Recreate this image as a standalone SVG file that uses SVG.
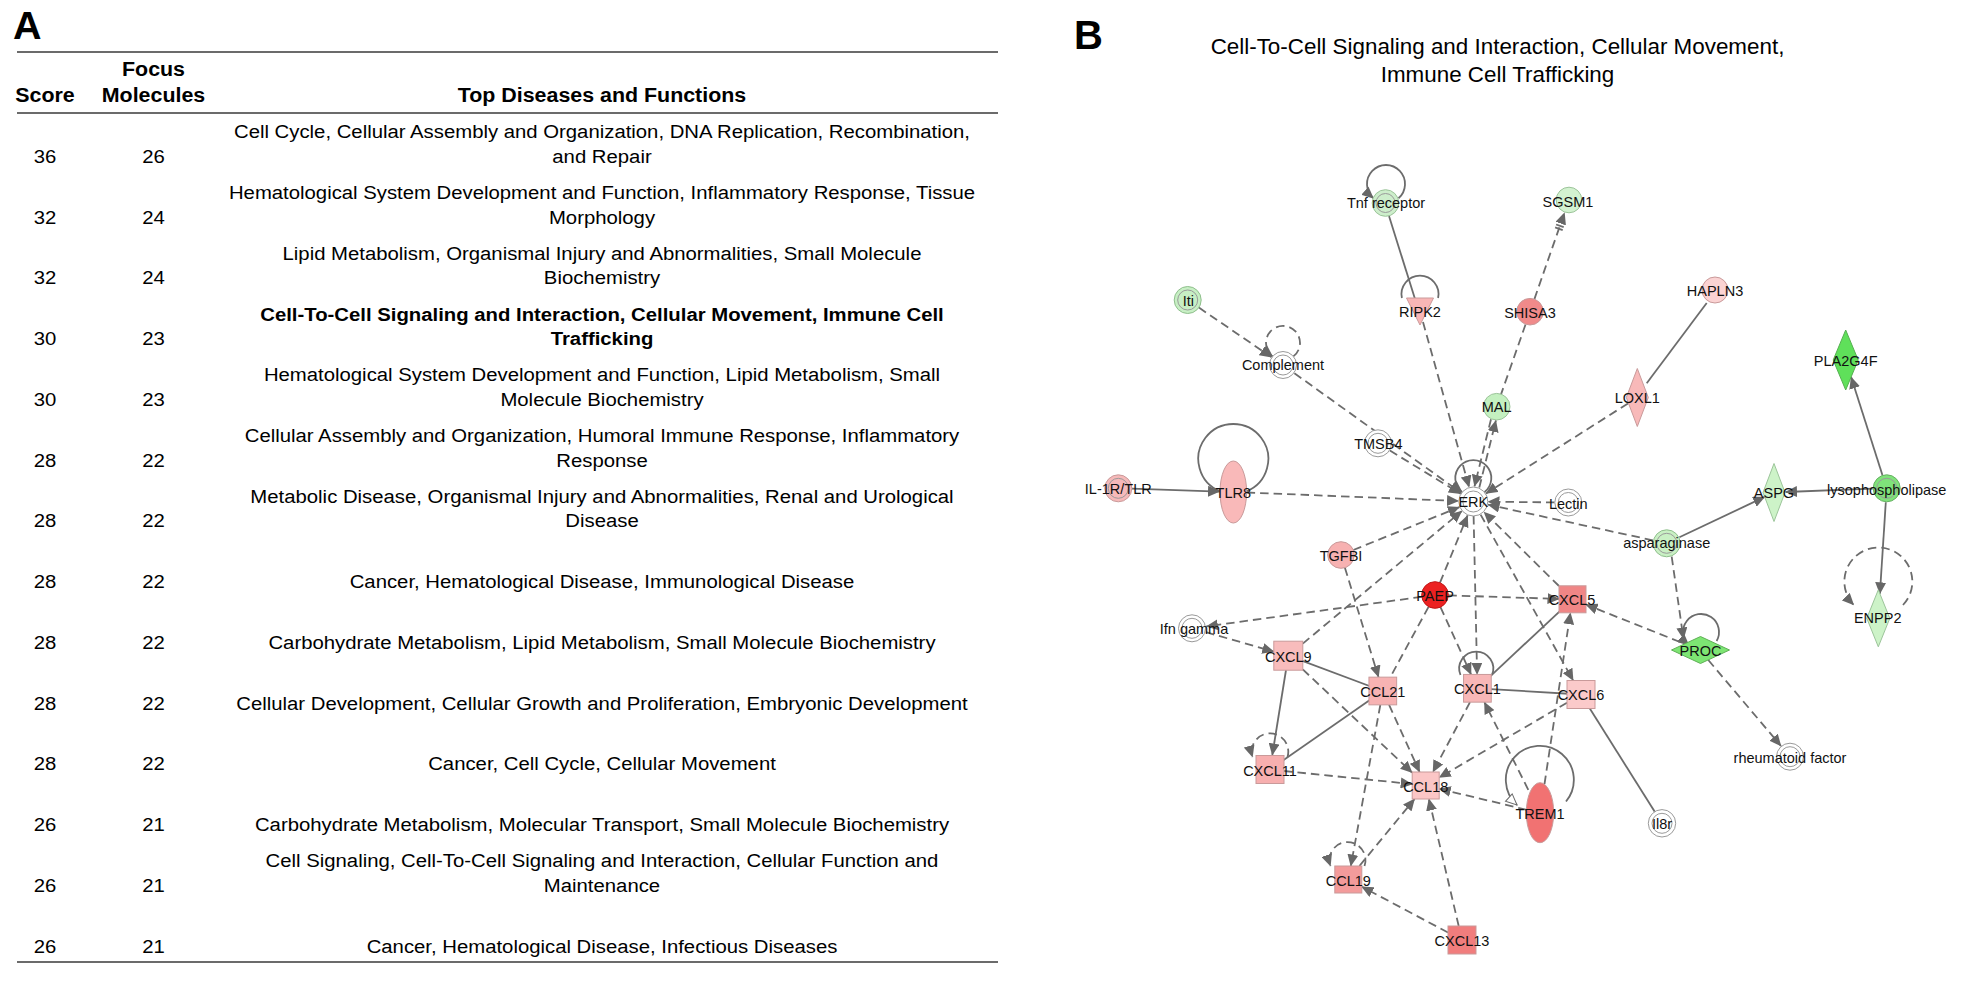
<svg xmlns="http://www.w3.org/2000/svg" width="1963" height="986" viewBox="0 0 1963 986">
<style>
.t{font-family:"Liberation Sans",Arial,Helvetica,sans-serif;font-size:19px;fill:#000;text-anchor:middle}
.b{font-weight:bold}
.h{font-size:20px}
.rule{stroke:#3a3a3a;stroke-width:1.6}
.e{fill:none;stroke:#6c6c6c;stroke-width:1.8}
.d{stroke-dasharray:8.5 5}
.a{marker-end:url(#ah)}
.lbl{font-family:"Liberation Sans",Arial,Helvetica,sans-serif;font-size:14.5px;fill:#111;text-anchor:middle}
.ring{fill:none;stroke:#9a9a9a;stroke-width:1}
.ow{fill:#fff;stroke:#9a9a9a;stroke-width:1}
.pk{stroke:#c99a9a;stroke-width:1}
.gr{stroke:#9cc49a;stroke-width:1}
</style>
<defs>
<marker id="ah" viewBox="0 0 12 11" refX="11.5" refY="5.5" markerWidth="12" markerHeight="11" markerUnits="userSpaceOnUse" orient="auto">
<path d="M0,0 L12,5.5 L0,11 Z" fill="#676767"/>
</marker>
<marker id="oh" viewBox="0 0 13 12" refX="12" refY="6" markerWidth="13" markerHeight="12" markerUnits="userSpaceOnUse" orient="auto">
<path d="M1,1 L12,6 L1,11 Z" fill="#fff" stroke="#6b6b6b" stroke-width="1"/>
</marker>
</defs>
<rect x="0" y="0" width="1963" height="986" fill="#fff"/>

<!-- Panel A -->
<g id="panelA">
<text x="13" y="38.5" font-family="Liberation Sans,Arial,sans-serif" font-size="39.5" font-weight="bold">A</text>
<line class="rule" x1="17" y1="52" x2="998" y2="52"/>
<line class="rule" x1="17" y1="113" x2="998" y2="113"/>
<line class="rule" x1="17" y1="962" x2="998" y2="962"/>
<g id="table-text" transform="scale(1.07,1)">
<text class="t b h" x="42.06" y="102">Score</text>
<text class="t b h" x="143.46" y="76">Focus</text>
<text class="t b h" x="143.46" y="102">Molecules</text>
<text class="t b h" x="562.62" y="102">Top Diseases and Functions</text>

<g id="row1"><text class="t" x="42.06" y="163">36</text><text class="t" x="143.46" y="163">26</text>
<text class="t" x="562.62" y="138.5">Cell Cycle, Cellular Assembly and Organization, DNA Replication, Recombination,</text>
<text class="t" x="562.62" y="163">and Repair</text></g>
<g id="row2"><text class="t" x="42.06" y="223.75">32</text><text class="t" x="143.46" y="223.75">24</text>
<text class="t" x="562.62" y="199.25">Hematological System Development and Function, Inflammatory Response, Tissue</text>
<text class="t" x="562.62" y="223.75">Morphology</text></g>
<g id="row3"><text class="t" x="42.06" y="284.5">32</text><text class="t" x="143.46" y="284.5">24</text>
<text class="t" x="562.62" y="260">Lipid Metabolism, Organismal Injury and Abnormalities, Small Molecule</text>
<text class="t" x="562.62" y="284.5">Biochemistry</text></g>
<g id="row4"><text class="t" x="42.06" y="345.25">30</text><text class="t" x="143.46" y="345.25">23</text>
<text class="t b" x="562.62" y="320.75">Cell-To-Cell Signaling and Interaction, Cellular Movement, Immune Cell</text>
<text class="t b" x="562.62" y="345.25">Trafficking</text></g>
<g id="row5"><text class="t" x="42.06" y="406">30</text><text class="t" x="143.46" y="406">23</text>
<text class="t" x="562.62" y="381.5">Hematological System Development and Function, Lipid Metabolism, Small</text>
<text class="t" x="562.62" y="406">Molecule Biochemistry</text></g>
<g id="row6"><text class="t" x="42.06" y="466.75">28</text><text class="t" x="143.46" y="466.75">22</text>
<text class="t" x="562.62" y="442.25">Cellular Assembly and Organization, Humoral Immune Response, Inflammatory</text>
<text class="t" x="562.62" y="466.75">Response</text></g>
<g id="row7"><text class="t" x="42.06" y="527.5">28</text><text class="t" x="143.46" y="527.5">22</text>
<text class="t" x="562.62" y="503">Metabolic Disease, Organismal Injury and Abnormalities, Renal and Urological</text>
<text class="t" x="562.62" y="527.5">Disease</text></g>
<g id="row8"><text class="t" x="42.06" y="588.25">28</text><text class="t" x="143.46" y="588.25">22</text>
<text class="t" x="562.62" y="588.25">Cancer, Hematological Disease, Immunological Disease</text></g>
<g id="row9"><text class="t" x="42.06" y="649">28</text><text class="t" x="143.46" y="649">22</text>
<text class="t" x="562.62" y="649">Carbohydrate Metabolism, Lipid Metabolism, Small Molecule Biochemistry</text></g>
<g id="row10"><text class="t" x="42.06" y="709.75">28</text><text class="t" x="143.46" y="709.75">22</text>
<text class="t" x="562.62" y="709.75">Cellular Development, Cellular Growth and Proliferation, Embryonic Development</text></g>
<g id="row11"><text class="t" x="42.06" y="770.5">28</text><text class="t" x="143.46" y="770.5">22</text>
<text class="t" x="562.62" y="770.5">Cancer, Cell Cycle, Cellular Movement</text></g>
<g id="row12"><text class="t" x="42.06" y="831.25">26</text><text class="t" x="143.46" y="831.25">21</text>
<text class="t" x="562.62" y="831.25">Carbohydrate Metabolism, Molecular Transport, Small Molecule Biochemistry</text></g>
<g id="row13"><text class="t" x="42.06" y="892">26</text><text class="t" x="143.46" y="892">21</text>
<text class="t" x="562.62" y="867.5">Cell Signaling, Cell-To-Cell Signaling and Interaction, Cellular Function and</text>
<text class="t" x="562.62" y="892">Maintenance</text></g>
<g id="row14"><text class="t" x="42.06" y="952.75">26</text><text class="t" x="143.46" y="952.75">21</text>
<text class="t" x="562.62" y="952.75">Cancer, Hematological Disease, Infectious Diseases</text></g>
</g>
</g>

<!-- Panel B -->
<g id="panelB-title">
<text x="1074" y="49" font-family="Liberation Sans,Arial,sans-serif" font-size="40" font-weight="bold">B</text>
<text x="1497.5" y="54.3" font-family="Liberation Sans,Arial,sans-serif" font-size="22.4" text-anchor="middle">Cell-To-Cell Signaling and Interaction, Cellular Movement,</text>
<text x="1497.5" y="81.5" font-family="Liberation Sans,Arial,sans-serif" font-size="22.4" text-anchor="middle">Immune Cell Trafficking</text>
</g>

<g id="connectors">
<!-- self loops -->
<path class="e a" d="M1398.5,198.3 A19,19 0 1 0 1373.5,198.3"/>
<path class="e" d="M1438.1,298 A18.5,18.5 0 1 0 1401.9,298"/>
<path class="e d a" d="M1293.4,356.4 A17,17 0 1 0 1272.6,356.4"/>
<path class="e" d="M1246.3,491.5 A35,35 0 1 0 1220.3,491.5"/>
<path class="e a" d="M1484.4,492.2 A18,18 0 1 0 1462.2,492.2"/>
<path class="e d a" d="M1903,605 A34,34 0 1 0 1853.7,605"/>
<path class="e a" d="M1716.6,641 A18,18 0 1 0 1689,645.4"/>
<path class="e" d="M1492,675 A17,17 0 1 0 1460.5,675"/>
<path class="e d a" d="M1287.5,757 A18.3,18.3 0 1 0 1252.5,757"/>
<path class="e d a" d="M1364.5,866 A18,18 0 1 0 1330.5,866"/>
<path class="e" style="marker-end:url(#oh)" d="M1566,801.5 A34,34 0 1 0 1517,805"/>

<!-- top area -->
<line class="e" x1="1389" y1="216" x2="1415" y2="299"/>
<line class="e d a" x1="1423" y1="322" x2="1469.1" y2="487.1"/>
<line class="e d a" x1="1534.4" y1="299.1" x2="1564.5" y2="212.7"/>
<line class="e" x1="1556.1" y1="224.5" x2="1563.7" y2="227.2"/>
<line class="e" x1="1555.1" y1="227.4" x2="1562.7" y2="230.1"/>
<line class="e d" x1="1530" y1="311.7" x2="1496.7" y2="406.7"/>
<line class="e d a" x1="1479.3" y1="487.5" x2="1495.9" y2="420.4"/>
<line class="e d a" x1="1491" y1="419.2" x2="1474.5" y2="486.3"/>
<line class="e d a" x1="1198.9" y1="307.6" x2="1271.4" y2="357.1"/>
<line class="e d a" x1="1294.4" y1="373.2" x2="1461.1" y2="492.8"/>
<line class="e d a" x1="1389.9" y1="450.6" x2="1460.5" y2="493.7"/>
<line class="e" x1="1706.7" y1="303" x2="1646.7" y2="383.3"/>
<line class="e d a" x1="1628" y1="403.4" x2="1486" y2="493.5"/>
<line class="e a" x1="1131.8" y1="488.7" x2="1219.5" y2="491.6"/>
<line class="e d a" x1="1246.6" y1="492.5" x2="1458.5" y2="501"/>

<!-- right cluster -->
<line class="e d a" x1="1554.5" y1="502.4" x2="1488" y2="501.7"/>
<line class="e d a" x1="1653" y1="540.3" x2="1488" y2="504.7"/>
<line class="e a" x1="1679.4" y1="537.3" x2="1764.7" y2="496.9"/>
<line class="e a" x1="1872.7" y1="488.6" x2="1785.5" y2="492"/>
<line class="e a" x1="1882.4" y1="475" x2="1851.1" y2="377"/>
<line class="e a" x1="1885.8" y1="502.3" x2="1879.9" y2="593.8"/>
<line class="e d a" x1="1671.7" y1="556.7" x2="1683.5" y2="639"/>
<line class="e d a" x1="1680" y1="642" x2="1586" y2="604.6"/>
<line class="e d a" x1="1708.3" y1="660" x2="1781" y2="746"/>

<!-- central cluster -->
<line class="e d a" x1="1353.3" y1="550" x2="1459.4" y2="507.1"/>
<line class="e d a" x1="1302.8" y1="643.6" x2="1461.8" y2="511.1"/>
<line class="e d a" x1="1440" y1="582.7" x2="1467.6" y2="515.4"/>
<line class="e d a" x1="1421.8" y1="596.8" x2="1206.4" y2="626.4"/>
<line class="e d a" x1="1206" y1="632.2" x2="1273.8" y2="651.6"/>
<line class="e d a" x1="1344.9" y1="567.7" x2="1378.5" y2="677.1"/>
<line class="e d" x1="1435" y1="595" x2="1382.8" y2="691"/>
<line class="e d a" x1="1440.5" y1="607.1" x2="1471.1" y2="674.5"/>
<line class="e d a" x1="1473.6" y1="516" x2="1477.1" y2="674.4"/>
<line class="e d a" x1="1448.3" y1="595.4" x2="1559" y2="598.9"/>
<line class="e d a" x1="1559" y1="586" x2="1484" y2="512"/>
<line class="e d a" x1="1480.6" y1="514.6" x2="1573.2" y2="680.5"/>
<line class="e" x1="1477.4" y1="688.3" x2="1572.5" y2="599.3"/>
<line class="e" x1="1477.4" y1="688.3" x2="1581" y2="694.5"/>
<line class="e" x1="1288.3" y1="655.7" x2="1382.8" y2="691"/>
<line class="e" x1="1382.8" y1="691" x2="1270" y2="769.5"/>
<line class="e a" x1="1286" y1="670" x2="1272.3" y2="755"/>
<line class="e d a" x1="1302.8" y1="669.4" x2="1412.2" y2="772.7"/>
<line class="e d a" x1="1389.1" y1="704.8" x2="1419.6" y2="772"/>
<line class="e d a" x1="1380.3" y1="705" x2="1350.8" y2="866"/>
<line class="e d a" x1="1470" y1="702.2" x2="1432.9" y2="772"/>
<line class="e d a" x1="1567" y1="702.7" x2="1439.2" y2="777.6"/>
<line class="e d a" x1="1528.3" y1="789.8" x2="1484.4" y2="702.2"/>
<line class="e d a" x1="1544.5" y1="784" x2="1570.4" y2="612.8"/>
<line class="e d a" x1="1526.5" y1="809.8" x2="1439.2" y2="788.8"/>
<line class="e d a" x1="1284" y1="771" x2="1412.2" y2="784.1"/>
<line class="e d a" x1="1359.4" y1="866" x2="1414.6" y2="799"/>
<line class="e d a" x1="1458.7" y1="926" x2="1428.9" y2="799"/>
<line class="e d a" x1="1448" y1="932.5" x2="1361.8" y2="886.7"/>
<line class="e" x1="1581" y1="694.5" x2="1662" y2="823.3"/>
</g>

<!-- nodes -->
<g id="n-tnf-receptor"><circle cx="1385.5" cy="203" r="13.3" fill="#cdeecb" stroke="#9cc49a"/><circle class="ring" cx="1385.5" cy="203" r="9.5" stroke="#9cc49a"/><text class="lbl" x="1386" y="208.3">Tnf receptor</text></g>
<g id="n-sgsm1"><circle class="gr" cx="1569" cy="200" r="12.8" fill="#d3f2d0"/><text class="lbl" x="1568" y="206.7">SGSM1</text></g>
<g id="n-iti"><circle cx="1187.7" cy="300" r="13.5" fill="#c7efc4" stroke="#8fbf8c"/><circle class="ring" cx="1187.7" cy="300" r="10" stroke="#8fbf8c"/><text class="lbl" x="1188.3" y="306">Iti</text></g>
<g id="n-ripk2"><path class="pk" d="M1406.5,298 L1433.5,298 L1420,325 Z" fill="#f9b6b6"/><text class="lbl" x="1420" y="316.7">RIPK2</text></g>
<g id="n-shisa3"><circle class="pk" cx="1530" cy="311.7" r="13.3" fill="#f08a8a"/><text class="lbl" x="1530" y="317.7">SHISA3</text></g>
<g id="n-hapln3"><circle class="pk" cx="1715" cy="290" r="13" fill="#fbd3d3"/><text class="lbl" x="1715" y="295.7">HAPLN3</text></g>
<g id="n-complement"><circle class="ow" cx="1283" cy="365" r="13.5"/><circle class="ring" cx="1283" cy="365" r="10"/><text class="lbl" x="1283" y="369.5">Complement</text></g>
<g id="n-loxl1"><path class="pk" d="M1637.3,368.5 L1648.3,397.5 L1637.3,426.5 L1626.3,397.5 Z" fill="#f8b9b9"/><text class="lbl" x="1637.3" y="402.7">LOXL1</text></g>
<g id="n-pla2g4f"><path d="M1845.7,330 L1858.2,360 L1845.7,390 L1833.2,360 Z" fill="#5fe05a" stroke="#55b050" stroke-width="1"/><text class="lbl" x="1845.7" y="365.7">PLA2G4F</text></g>
<g id="n-mal"><circle class="gr" cx="1496.7" cy="406.7" r="13.3" fill="#c4f0c0"/><text class="lbl" x="1496.7" y="412.3">MAL</text></g>
<g id="n-tmsb4"><circle class="ow" cx="1378" cy="443.3" r="13.5"/><circle class="ring" cx="1378" cy="443.3" r="10"/><text class="lbl" x="1378.3" y="449.3">TMSB4</text></g>
<g id="n-il1r-tlr"><circle cx="1118.3" cy="488.3" r="13.5" fill="#f6b9b9" stroke="#c99a9a"/><circle class="ring" cx="1118.3" cy="488.3" r="10" stroke="#c99a9a"/><text class="lbl" x="1118.3" y="494">IL-1R/TLR</text></g>
<g id="n-tlr8"><ellipse class="pk" cx="1233.3" cy="492" rx="13.3" ry="31" fill="#f9b9b9"/><text class="lbl" x="1233.3" y="498">TLR8</text></g>
<g id="n-erk"><circle class="ow" cx="1473.3" cy="501.5" r="14.5"/><circle class="ring" cx="1473.3" cy="501.5" r="10.5"/><text class="lbl" x="1473.3" y="506.5">ERK</text></g>
<g id="n-lectin"><circle class="ow" cx="1568.3" cy="502.5" r="13.5"/><circle class="ring" cx="1568.3" cy="502.5" r="10"/><text class="lbl" x="1568.3" y="509">Lectin</text></g>
<g id="n-aspg"><path class="gr" d="M1774,463.5 L1785,492.5 L1774,521.5 L1763,492.5 Z" fill="#cdf3c8"/><text class="lbl" x="1774" y="498.3">ASPG</text></g>
<g id="n-lysophospholipase"><circle cx="1886.7" cy="488.3" r="13.5" fill="#7fe27a" stroke="#66b062"/><circle class="ring" cx="1886.7" cy="488.3" r="10" stroke="#66b062"/><text class="lbl" x="1886.7" y="494.5">lysophospholipase</text></g>
<g id="n-asparaginase"><circle cx="1666.7" cy="543.3" r="13.5" fill="#c9f0c4" stroke="#8fbf8c"/><circle class="ring" cx="1666.7" cy="543.3" r="10" stroke="#8fbf8c"/><text class="lbl" x="1666.7" y="548.3">asparaginase</text></g>
<g id="n-tgfbi"><circle class="pk" cx="1341" cy="555" r="13.3" fill="#f7b1b1"/><text class="lbl" x="1341" y="560.7">TGFBI</text></g>
<g id="n-paep"><circle cx="1435" cy="595" r="13.3" fill="#ec2121" stroke="#c01818" stroke-width="1"/><text class="lbl" x="1435" y="600.7">PAEP</text></g>
<g id="n-cxcl5"><rect class="pk" x="1559" y="585.8" width="27" height="27" fill="#f08686"/><text class="lbl" x="1572" y="605">CXCL5</text></g>
<g id="n-enpp2"><path class="gr" d="M1878.3,589.8 L1889.8,618.3 L1878.3,646.8 L1866.8,618.3 Z" fill="#cdf3c8"/><text class="lbl" x="1877.7" y="623.3">ENPP2</text></g>
<g id="n-ifn-gamma"><circle class="ow" cx="1192" cy="628.3" r="13.5"/><circle class="ring" cx="1192" cy="628.3" r="10"/><text class="lbl" x="1194" y="634">Ifn gamma</text></g>
<g id="n-proc"><path d="M1671.5,650 L1700.5,636.5 L1729.5,650 L1700.5,663.5 Z" fill="#7de573" stroke="#5fb055" stroke-width="1"/><text class="lbl" x="1700.5" y="656">PROC</text></g>
<g id="n-cxcl9"><rect class="pk" x="1273.8" y="641.2" width="29" height="29" fill="#f8bcbc"/><text class="lbl" x="1288.3" y="661.7">CXCL9</text></g>
<g id="n-ccl21"><rect class="pk" x="1368.95" y="677.15" width="27.7" height="27.7" fill="#f7b3b3"/><text class="lbl" x="1382.8" y="697">CCL21</text></g>
<g id="n-cxcl1"><rect class="pk" x="1463.55" y="674.45" width="27.7" height="27.7" fill="#f8b7b7"/><text class="lbl" x="1477.4" y="694">CXCL1</text></g>
<g id="n-cxcl6"><rect class="pk" x="1567" y="680.5" width="28" height="28" fill="#fbcaca"/><text class="lbl" x="1581" y="700">CXCL6</text></g>
<g id="n-rheumatoid-factor"><circle class="ow" cx="1790" cy="756.7" r="13.5"/><circle class="ring" cx="1790" cy="756.7" r="10"/><text class="lbl" x="1790" y="763">rheumatoid factor</text></g>
<g id="n-cxcl11"><rect class="pk" x="1256" y="755.5" width="28" height="28" fill="#f7afaf"/><text class="lbl" x="1270" y="776">CXCL11</text></g>
<g id="n-ccl18"><rect class="pk" x="1412.2" y="772" width="27" height="27" fill="#fbc6c6"/><text class="lbl" x="1425.7" y="791.7">CCL18</text></g>
<g id="n-trem1"><ellipse class="pk" cx="1540" cy="812.7" rx="13.7" ry="30" fill="#f17272"/><text class="lbl" x="1540" y="819">TREM1</text></g>
<g id="n-il8r"><circle class="ow" cx="1662" cy="823.3" r="13.7"/><circle class="ring" cx="1662" cy="823.3" r="10"/><text class="lbl" x="1662" y="829">Il8r</text></g>
<g id="n-ccl19"><rect class="pk" x="1334.8" y="866" width="27" height="27" fill="#f39b9b"/><text class="lbl" x="1348.3" y="885.5">CCL19</text></g>
<g id="n-cxcl13"><rect class="pk" x="1448" y="926" width="28" height="28" fill="#f17d7d"/><text class="lbl" x="1462" y="945.7">CXCL13</text></g>
</svg>
